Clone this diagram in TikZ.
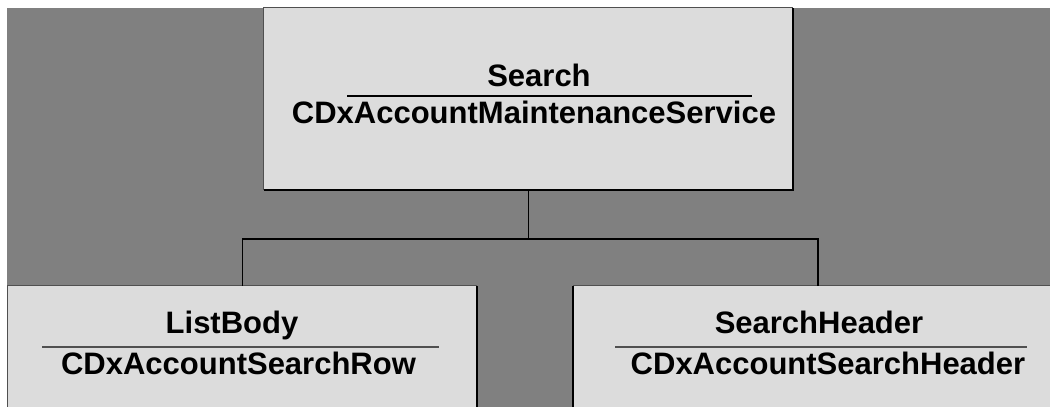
\documentclass[tikz,border=0pt]{standalone}
\usepackage{fontspec}
\setmainfont{Liberation Sans}
\definecolor{bggray}{HTML}{808080}
\definecolor{boxfill}{HTML}{DCDCDC}
\definecolor{edgegray}{HTML}{505050}
\begin{document}
\begin{tikzpicture}[x=1pt,y=-1pt,
  box/.style={fill=boxfill,draw=none,inner sep=0pt,minimum width=#1},
  lbl/.style={anchor=base,inner sep=0pt,font=\fontsize{31}{36}\selectfont\bfseries},
  conn/.style={draw=black,line width=1.8pt},
  shadowedge/.style={draw=black,line width=2.4pt},
  litedge/.style={draw=edgegray,line width=1pt},
  sepline/.style={line width=1.2pt}]
\useasboundingbox (0,0) rectangle (1050,407);
\clip (0,0) rectangle (1050,407);
\fill[white] (0,0) rectangle (1050,407);
\fill[bggray] (7,8) rectangle (1050,407);
% top box
\node[box=529pt,minimum height=182pt] (top) at (528.5,99) {};
\draw[litedge] (top.south west) -- (top.north west) -- (top.north east);
\draw[shadowedge] (top.south west) -- (top.south east) -- (top.north east);
\foreach \ty in {20,43,67,91,114,138,162}
  \draw[edgegray,line width=0.8pt] ([yshift=\ty pt]top.north west) -- ++(2.5,0);
% left box
\node[box=469pt,minimum height=134pt] (lb) at (242.5,353) {};
\draw[litedge] (lb.south west) -- (lb.north west) -- (lb.north east);
\draw[shadowedge] (lb.north east) -- (lb.south east);
% right box
\node[box=490pt,minimum height=134pt] (rb) at (818,353) {};
\draw[shadowedge] (rb.south west) -- (rb.north west);
\draw[litedge] (rb.north west) -- (rb.north east);
% texts
\node[lbl] (t1) at (539,86) {Search};
\node[lbl] (c1) at (534,123) {CDxAccountMaintenanceService};
\draw[sepline,black] (347,96) -- (752,96);
\node[lbl] (t2) at (232,333) {ListBody};
\node[lbl] (c2) at (238.5,374) {CDxAccountSearchRow};
\draw[sepline,edgegray] (42,347) -- (439,347);
\node[lbl] (t3) at (819,333) {SearchHeader};
\node[lbl] (c3) at (828,374) {CDxAccountSearchHeader};
\draw[sepline,edgegray] (615,347) -- (1027,347);
% connectors
\coordinate (j) at (528.5,239);
\draw[conn] (top.south) -- (j);
\draw[conn] (lb.north) |- (j) -| (rb.north);
\end{tikzpicture}
\end{document}
